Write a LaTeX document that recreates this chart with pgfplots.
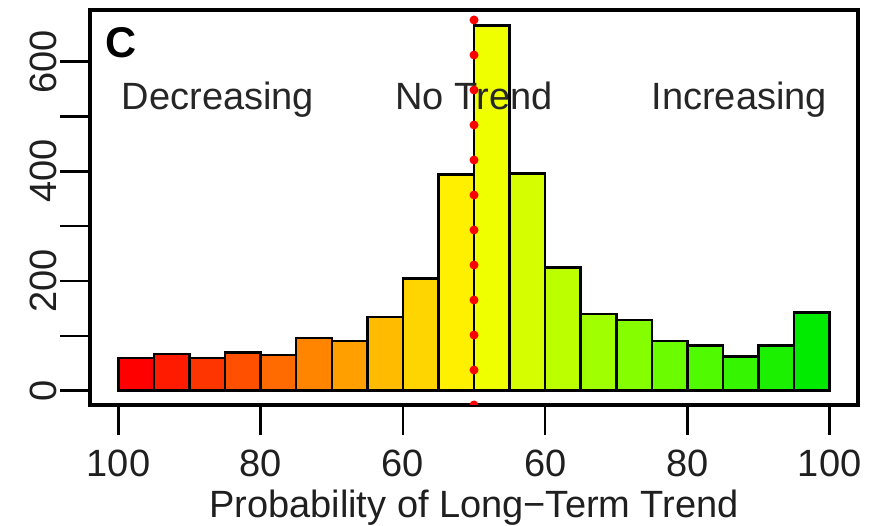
\documentclass[border=0pt]{standalone}
\usepackage{pgfplots}
\pgfplotsset{compat=1.18}
\usepackage{fontspec}
\setmainfont{Liberation Sans}
\definecolor{b1}{RGB}{255,0,0}
\definecolor{b2}{RGB}{255,27,0}
\definecolor{b3}{RGB}{255,53,0}
\definecolor{b4}{RGB}{255,80,0}
\definecolor{b5}{RGB}{255,107,0}
\definecolor{b6}{RGB}{255,133,0}
\definecolor{b7}{RGB}{255,160,0}
\definecolor{b8}{RGB}{255,187,0}
\definecolor{b9}{RGB}{255,213,0}
\definecolor{b10}{RGB}{255,240,0}
\definecolor{b11}{RGB}{240,255,0}
\definecolor{b12}{RGB}{213,255,0}
\definecolor{b13}{RGB}{187,255,0}
\definecolor{b14}{RGB}{160,255,0}
\definecolor{b15}{RGB}{133,255,0}
\definecolor{b16}{RGB}{107,252,0}
\definecolor{b17}{RGB}{80,250,0}
\definecolor{b18}{RGB}{53,245,0}
\definecolor{b19}{RGB}{27,240,0}
\definecolor{b20}{RGB}{0,235,0}
\begin{document}
\begin{tikzpicture}
\begin{axis}[
  scale only axis,
  width=768bp, height=395bp,
  xmin=-4, xmax=104, ymin=-26, ymax=694,
  axis line style={line width=4.5bp, black},
  tick align=outside,
  xtick pos=bottom, ytick pos=left,
  major tick length=30bp,
  every tick/.style={line width=2.5bp, black},
  xtick={0,20,40,60,80,100},
  xticklabels={100,80,60,60,80,100},
  ytick={0,100,200,300,400,500,600},
  yticklabels={0,,200,,400,,600},
  /pgf/number format/assume math mode=true,
  tick label style={font=\fontsize{38bp}{44bp}\selectfont, text=black!88},
  xticklabel style={yshift=-11bp},
  yticklabel style={rotate=90, anchor=south},
  xlabel={Probability of Long\textminus Term Trend},
  xlabel style={font=\fontsize{38bp}{44bp}\selectfont, inner sep=0pt, yshift=-10bp, text=black!88},
  clip=true,
]
\addplot[ybar interval, fill=b1, draw=black, line width=2.5bp] coordinates {(0,60) (5,60)};
\addplot[ybar interval, fill=b2, draw=black, line width=2.5bp] coordinates {(5,67) (10,67)};
\addplot[ybar interval, fill=b3, draw=black, line width=2.5bp] coordinates {(10,60) (15,60)};
\addplot[ybar interval, fill=b4, draw=black, line width=2.5bp] coordinates {(15,70) (20,70)};
\addplot[ybar interval, fill=b5, draw=black, line width=2.5bp] coordinates {(20,65) (25,65)};
\addplot[ybar interval, fill=b6, draw=black, line width=2.5bp] coordinates {(25,96) (30,96)};
\addplot[ybar interval, fill=b7, draw=black, line width=2.5bp] coordinates {(30,91) (35,91)};
\addplot[ybar interval, fill=b8, draw=black, line width=2.5bp] coordinates {(35,134) (40,134)};
\addplot[ybar interval, fill=b9, draw=black, line width=2.5bp] coordinates {(40,205) (45,205)};
\addplot[ybar interval, fill=b10, draw=black, line width=2.5bp] coordinates {(45,394) (50,394)};
\addplot[ybar interval, fill=b11, draw=black, line width=2.5bp] coordinates {(50,666) (55,666)};
\addplot[ybar interval, fill=b12, draw=black, line width=2.5bp] coordinates {(55,396) (60,396)};
\addplot[ybar interval, fill=b13, draw=black, line width=2.5bp] coordinates {(60,225) (65,225)};
\addplot[ybar interval, fill=b14, draw=black, line width=2.5bp] coordinates {(65,140) (70,140)};
\addplot[ybar interval, fill=b15, draw=black, line width=2.5bp] coordinates {(70,129) (75,129)};
\addplot[ybar interval, fill=b16, draw=black, line width=2.5bp] coordinates {(75,91) (80,91)};
\addplot[ybar interval, fill=b17, draw=black, line width=2.5bp] coordinates {(80,82) (85,82)};
\addplot[ybar interval, fill=b18, draw=black, line width=2.5bp] coordinates {(85,62) (90,62)};
\addplot[ybar interval, fill=b19, draw=black, line width=2.5bp] coordinates {(90,82) (95,82)};
\addplot[ybar interval, fill=b20, draw=black, line width=2.5bp] coordinates {(95,143) (100,143)};
\node[anchor=base west, inner sep=0pt, font=\fontsize{43bp}{48bp}\selectfont\bfseries] at (axis cs:-1.8,607) {C};
\node[anchor=base, inner sep=0pt, font=\fontsize{38bp}{44bp}\selectfont, text=black!85] at (axis cs:14,512) {Decreasing};
\node[anchor=base, inner sep=0pt, font=\fontsize{38bp}{44bp}\selectfont, text=black!85] at (axis cs:50,512) {No Trend};
\node[anchor=base, inner sep=0pt, font=\fontsize{38bp}{44bp}\selectfont, text=black!85] at (axis cs:87.3,512) {Increasing};
\addplot[red, line width=9bp, line cap=round, dash pattern=on 0pt off 35bp] coordinates {(50,-26) (50,694)};
\coordinate (bl) at (rel axis cs:-0.1172,-0.3063);
\coordinate (tr) at (rel axis cs:1.0247,1.0253);
\end{axis}
\pgfresetboundingbox
\path (bl) rectangle (tr);
\end{tikzpicture}
\end{document}
